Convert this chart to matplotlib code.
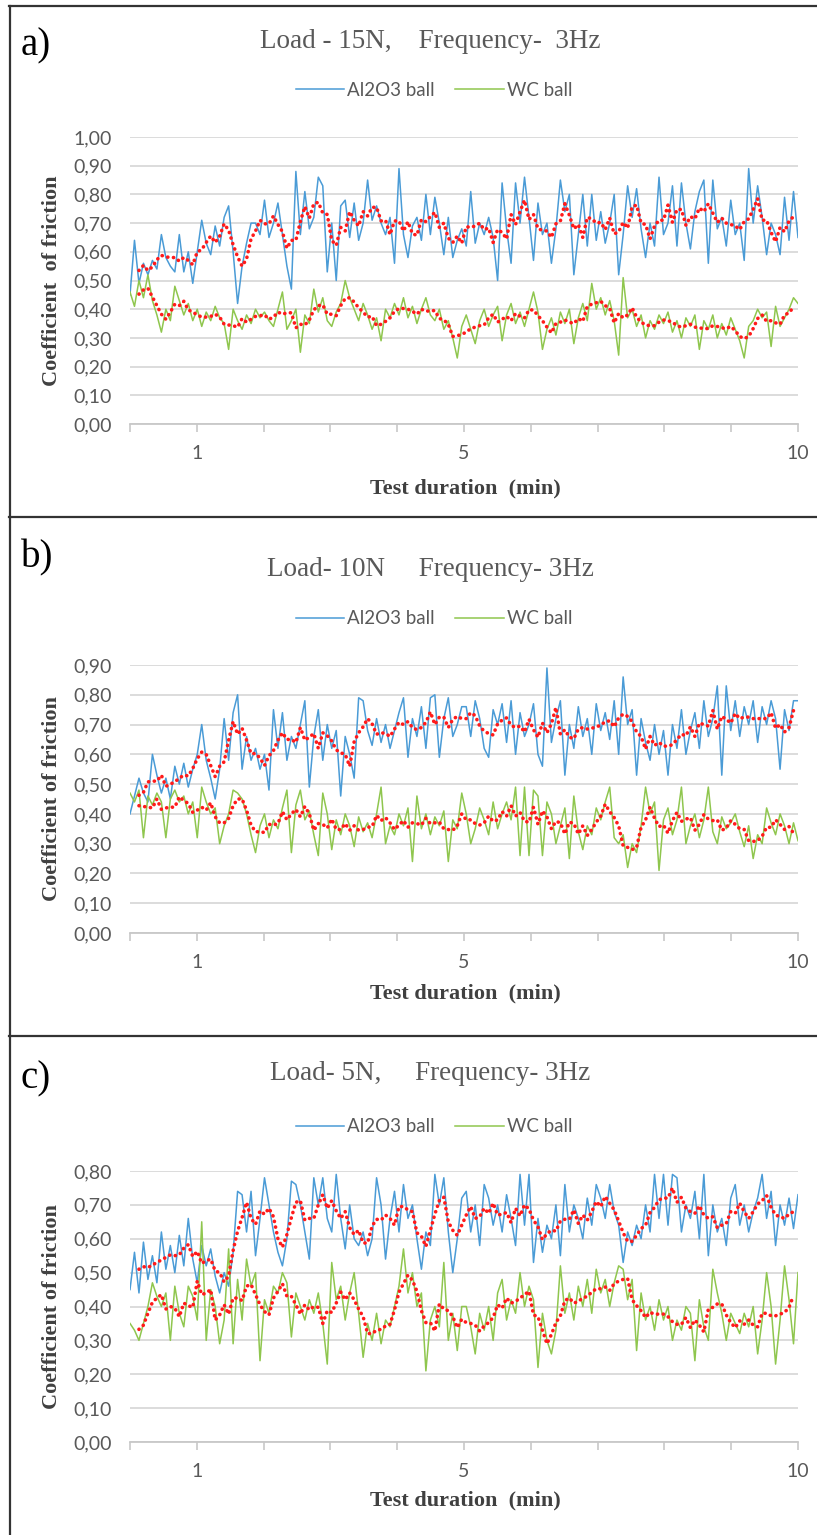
import numpy as np
import pandas as pd
import matplotlib
matplotlib.use("Agg")
import matplotlib.pyplot as plt
from matplotlib.lines import Line2D
from matplotlib.ticker import FuncFormatter, FixedLocator

# ---------------- data (coefficient of friction) ----------------
series_labels = ["Al2O3 ball", "WC ball"]
x_tick_values = [1, 5, 10]

a_al2o3 = [
    0.45, 0.64, 0.49, 0.56, 0.52, 0.57, 0.54, 0.66, 0.58, 0.55, 0.53, 0.66, 0.53, 0.60, 0.49,
    0.60, 0.71, 0.63, 0.59, 0.69, 0.62, 0.72, 0.76, 0.60, 0.42, 0.55, 0.63, 0.70, 0.70, 0.66,
    0.78, 0.65, 0.70, 0.77, 0.66, 0.55, 0.47, 0.88, 0.66, 0.81, 0.68, 0.72, 0.86, 0.83, 0.53,
    0.70, 0.50, 0.76, 0.78, 0.65, 0.77, 0.64, 0.70, 0.85, 0.71, 0.76, 0.70, 0.66, 0.72, 0.56,
    0.89, 0.66, 0.58, 0.69, 0.72, 0.64, 0.80, 0.66, 0.79, 0.70, 0.59, 0.72, 0.58, 0.64, 0.68,
    0.62, 0.81, 0.63, 0.70, 0.66, 0.72, 0.65, 0.50, 0.84, 0.68, 0.56, 0.84, 0.70, 0.86, 0.72,
    0.57, 0.77, 0.66, 0.70, 0.56, 0.68, 0.85, 0.74, 0.80, 0.52, 0.66, 0.80, 0.62, 0.80, 0.64,
    0.74, 0.63, 0.70, 0.80, 0.52, 0.66, 0.83, 0.72, 0.82, 0.68, 0.58, 0.70, 0.62, 0.86, 0.66,
    0.70, 0.83, 0.62, 0.84, 0.70, 0.61, 0.74, 0.81, 0.85, 0.56, 0.85, 0.68, 0.72, 0.62, 0.78,
    0.66, 0.70, 0.57, 0.89, 0.70, 0.83, 0.72, 0.59, 0.70, 0.66, 0.59, 0.79, 0.64, 0.81, 0.65,
]
a_wc = [
    0.46, 0.41, 0.50, 0.44, 0.52, 0.43, 0.38, 0.32, 0.40, 0.36, 0.48, 0.43, 0.38, 0.42, 0.36,
    0.40, 0.34, 0.39, 0.36, 0.41, 0.37, 0.35, 0.26, 0.40, 0.36, 0.33, 0.38, 0.35, 0.40, 0.37,
    0.39, 0.36, 0.34, 0.40, 0.46, 0.33, 0.36, 0.40, 0.25, 0.38, 0.35, 0.47, 0.39, 0.44, 0.36,
    0.34, 0.39, 0.42, 0.50, 0.44, 0.40, 0.36, 0.42, 0.38, 0.33, 0.37, 0.29, 0.40, 0.37, 0.42,
    0.38, 0.44, 0.37, 0.41, 0.35, 0.40, 0.44, 0.38, 0.36, 0.40, 0.33, 0.36, 0.30, 0.23, 0.34,
    0.38, 0.33, 0.28, 0.36, 0.40, 0.34, 0.38, 0.41, 0.29, 0.38, 0.42, 0.35, 0.39, 0.34, 0.40,
    0.46, 0.39, 0.26, 0.33, 0.37, 0.31, 0.39, 0.35, 0.40, 0.28, 0.37, 0.42, 0.36, 0.49, 0.40,
    0.44, 0.38, 0.43, 0.36, 0.24, 0.51, 0.37, 0.40, 0.34, 0.38, 0.30, 0.36, 0.33, 0.38, 0.35,
    0.39, 0.32, 0.36, 0.30, 0.37, 0.34, 0.38, 0.26, 0.36, 0.33, 0.38, 0.30, 0.35, 0.31, 0.37,
    0.33, 0.29, 0.23, 0.34, 0.36, 0.40, 0.37, 0.39, 0.27, 0.41, 0.34, 0.37, 0.40, 0.44, 0.42,
]
b_al2o3 = [
    0.40, 0.46, 0.52, 0.47, 0.44, 0.60, 0.53, 0.47, 0.52, 0.45, 0.56, 0.50, 0.57, 0.49, 0.55,
    0.60, 0.70, 0.58, 0.52, 0.45, 0.55, 0.72, 0.58, 0.74, 0.80, 0.55, 0.66, 0.58, 0.62, 0.55,
    0.60, 0.48, 0.75, 0.62, 0.74, 0.58, 0.66, 0.62, 0.70, 0.78, 0.49, 0.66, 0.75, 0.58, 0.70,
    0.62, 0.68, 0.46, 0.66, 0.60, 0.52, 0.79, 0.78, 0.68, 0.63, 0.72, 0.64, 0.70, 0.62, 0.68,
    0.74, 0.79, 0.59, 0.72, 0.66, 0.76, 0.62, 0.79, 0.80, 0.59, 0.72, 0.79, 0.66, 0.70, 0.76,
    0.76, 0.66, 0.78, 0.72, 0.62, 0.59, 0.75, 0.70, 0.77, 0.64, 0.78, 0.60, 0.74, 0.66, 0.70,
    0.77, 0.60, 0.56, 0.89, 0.64, 0.72, 0.78, 0.53, 0.70, 0.62, 0.76, 0.66, 0.72, 0.60, 0.77,
    0.68, 0.74, 0.65, 0.78, 0.60, 0.86, 0.70, 0.75, 0.53, 0.72, 0.64, 0.58, 0.70, 0.60, 0.68,
    0.53, 0.70, 0.62, 0.75, 0.60, 0.68, 0.74, 0.62, 0.78, 0.66, 0.72, 0.83, 0.53, 0.83, 0.68,
    0.78, 0.66, 0.76, 0.70, 0.78, 0.64, 0.76, 0.70, 0.78, 0.72, 0.55, 0.75, 0.68, 0.78, 0.78,
]
b_wc = [
    0.47, 0.44, 0.48, 0.32, 0.46, 0.43, 0.47, 0.44, 0.32, 0.45, 0.48, 0.44, 0.46, 0.40, 0.44,
    0.32, 0.49, 0.44, 0.40, 0.42, 0.30, 0.36, 0.40, 0.48, 0.47, 0.45, 0.40, 0.33, 0.27, 0.36,
    0.40, 0.32, 0.38, 0.35, 0.42, 0.48, 0.27, 0.43, 0.48, 0.38, 0.41, 0.33, 0.26, 0.47, 0.40,
    0.28, 0.38, 0.33, 0.40, 0.36, 0.29, 0.39, 0.34, 0.37, 0.32, 0.40, 0.49, 0.30, 0.36, 0.33,
    0.40, 0.36, 0.42, 0.24, 0.46, 0.35, 0.40, 0.33, 0.39, 0.36, 0.41, 0.24, 0.38, 0.35, 0.47,
    0.40, 0.30, 0.35, 0.42, 0.38, 0.33, 0.44, 0.35, 0.40, 0.44, 0.38, 0.49, 0.26, 0.49, 0.26,
    0.48, 0.46, 0.26, 0.44, 0.40, 0.30, 0.36, 0.42, 0.25, 0.46, 0.34, 0.28, 0.36, 0.33, 0.42,
    0.38, 0.44, 0.49, 0.32, 0.30, 0.33, 0.22, 0.30, 0.27, 0.36, 0.49, 0.40, 0.44, 0.21, 0.38,
    0.42, 0.33, 0.38, 0.49, 0.30, 0.36, 0.40, 0.32, 0.38, 0.49, 0.34, 0.30, 0.39, 0.35, 0.37,
    0.40, 0.34, 0.29, 0.36, 0.25, 0.33, 0.30, 0.42, 0.37, 0.33, 0.40, 0.36, 0.30, 0.37, 0.31,
]
c_al2o3 = [
    0.45, 0.56, 0.44, 0.59, 0.48, 0.55, 0.47, 0.62, 0.51, 0.58, 0.50, 0.61, 0.52, 0.66, 0.54,
    0.47, 0.58, 0.52, 0.57, 0.49, 0.44, 0.50, 0.46, 0.56, 0.74, 0.73, 0.62, 0.74, 0.55, 0.66,
    0.78, 0.70, 0.62, 0.56, 0.52, 0.60, 0.77, 0.76, 0.70, 0.62, 0.54, 0.78, 0.70, 0.78, 0.66,
    0.62, 0.79, 0.66, 0.57, 0.70, 0.60, 0.58, 0.62, 0.55, 0.60, 0.78, 0.70, 0.54, 0.66, 0.74,
    0.62, 0.76, 0.66, 0.70, 0.60, 0.51, 0.62, 0.58, 0.79, 0.70, 0.78, 0.62, 0.50, 0.60, 0.72,
    0.74, 0.62, 0.70, 0.58, 0.76, 0.72, 0.64, 0.70, 0.62, 0.73, 0.66, 0.58, 0.79, 0.64, 0.79,
    0.53, 0.66, 0.56, 0.64, 0.60, 0.70, 0.55, 0.76, 0.62, 0.70, 0.66, 0.60, 0.72, 0.64, 0.76,
    0.72, 0.66, 0.76, 0.68, 0.64, 0.53, 0.62, 0.58, 0.64, 0.60, 0.70, 0.62, 0.79, 0.66, 0.79,
    0.64, 0.79, 0.78, 0.62, 0.70, 0.66, 0.74, 0.60, 0.79, 0.55, 0.70, 0.62, 0.66, 0.58, 0.72,
    0.76, 0.64, 0.70, 0.62, 0.68, 0.72, 0.79, 0.66, 0.74, 0.58, 0.70, 0.64, 0.72, 0.63, 0.73,
]
c_wc = [
    0.35, 0.33, 0.30, 0.35, 0.40, 0.47, 0.43, 0.40, 0.44, 0.30, 0.46, 0.38, 0.34, 0.46, 0.43,
    0.36, 0.65, 0.30, 0.45, 0.40, 0.29, 0.36, 0.57, 0.29, 0.48, 0.36, 0.54, 0.46, 0.50, 0.24,
    0.42, 0.38, 0.46, 0.44, 0.50, 0.47, 0.31, 0.44, 0.40, 0.36, 0.42, 0.38, 0.44, 0.35, 0.23,
    0.53, 0.42, 0.46, 0.36, 0.44, 0.50, 0.38, 0.25, 0.35, 0.30, 0.38, 0.29, 0.36, 0.34, 0.40,
    0.46, 0.57, 0.44, 0.50, 0.40, 0.44, 0.21, 0.36, 0.40, 0.34, 0.53, 0.30, 0.38, 0.27, 0.40,
    0.40, 0.34, 0.26, 0.38, 0.33, 0.40, 0.30, 0.44, 0.48, 0.36, 0.42, 0.38, 0.50, 0.40, 0.46,
    0.42, 0.22, 0.38, 0.30, 0.26, 0.33, 0.52, 0.38, 0.44, 0.36, 0.46, 0.40, 0.48, 0.38, 0.51,
    0.44, 0.48, 0.40, 0.47, 0.52, 0.51, 0.42, 0.48, 0.27, 0.44, 0.36, 0.40, 0.33, 0.42, 0.36,
    0.40, 0.30, 0.36, 0.33, 0.40, 0.38, 0.24, 0.42, 0.34, 0.30, 0.51, 0.44, 0.38, 0.30, 0.38,
    0.35, 0.32, 0.38, 0.34, 0.40, 0.26, 0.36, 0.50, 0.40, 0.23, 0.36, 0.52, 0.42, 0.29, 0.50,
]

panel_labels = ["a)", "b)", "c)"]
panel_titles = ["Load - 15N,    Frequency-  3Hz",
                "Load- 10N     Frequency- 3Hz",
                "Load- 5N,     Frequency- 3Hz"]
y_labels = ["Coefficient  of friction", "Coefficient of friction", "Coefficient of friction"]
y_max = [1.0, 0.9, 0.8]
x_label = "Test duration  (min)"
test_minutes = 10

# ---------------- styling ----------------
W, H = 817, 1535
BLUE = "#4a9bd6"
GREEN = "#8fc64e"
RED = "#ff1a1a"
GRID = "#d9d9d9"
TXT = "#595959"
SERIF = "Liberation Serif"
SANS = ["Lato", "DejaVu Sans"]
MA_WINDOW = 4

fig = plt.figure(figsize=(W / 100, H / 100), dpi=100)
fig.patch.set_facecolor("white")

def fx(px):
    return px / W

def fy(py):
    return 1 - py / H

# pixel layout of each panel: (axes top, axes bottom, title y, legend y, label y, x-label y)
layout = [
    dict(top=137, bottom=424, title=42, legend=90, label=46, xlabel=488),
    dict(top=665, bottom=933, title=570, legend=619, label=558, xlabel=993),
    dict(top=1171, bottom=1442, title=1073, legend=1127, label=1079, xlabel=1500),
]
AX_L, AX_R = 130, 798

data = [(a_al2o3, a_wc), (b_al2o3, b_wc), (c_al2o3, c_wc)]
comma_fmt = FuncFormatter(lambda v, p: f"{v:.2f}".replace(".", ","))

for k in range(3):
    lay = layout[k]
    al, wc = data[k]
    ax = fig.add_axes([fx(AX_L), fy(lay["bottom"]), fx(AX_R) - fx(AX_L),
                       (lay["bottom"] - lay["top"]) / H])
    t_al = np.linspace(0, test_minutes, len(al))
    t_wc = np.linspace(0, test_minutes, len(wc))
    l1, = ax.plot(t_al, al, color=BLUE, lw=1.1, zorder=3)
    l2, = ax.plot(t_wc, wc, color=GREEN, lw=1.1, zorder=3)
    for t, s in ((t_al, al), (t_wc, wc)):
        ma = pd.Series(s).rolling(MA_WINDOW, center=True).mean()
        ax.plot(t, ma, color=RED, lw=2.6, linestyle=(0, (0.05, 1.55)),
                dash_capstyle="round", zorder=4)

    ax.set_xlim(0, test_minutes)
    ax.set_ylim(0, y_max[k])
    ax.yaxis.set_major_locator(FixedLocator(np.round(np.arange(0, y_max[k] + 1e-6, 0.1), 2)))
    ax.yaxis.set_major_formatter(comma_fmt)
    ax.set_xticks(range(0, test_minutes + 1))
    ax.set_xticklabels([str(m) if m in x_tick_values else "" for m in range(test_minutes + 1)])
    ax.grid(axis="y", color=GRID, lw=1.3)
    ax.set_axisbelow(True)
    for side in ("top", "right", "left"):
        ax.spines[side].set_visible(False)
    ax.spines["bottom"].set_color("#c8c8c8")
    ax.spines["bottom"].set_linewidth(1.3)
    ax.tick_params(axis="y", length=0, pad=13, labelsize=14, labelcolor=TXT)
    ax.tick_params(axis="x", direction="out", length=6, width=1.2, color="#c8c8c8",
                   pad=9, labelsize=14, labelcolor=TXT)
    for lab in ax.get_xticklabels() + ax.get_yticklabels():
        lab.set_family(SANS)

    leg = ax.legend([l1, l2], series_labels, loc="center", ncol=2, frameon=False,
                    bbox_to_anchor=(fx(434), fy(lay["legend"])), bbox_transform=fig.transFigure,
                    handlelength=2.6, handletextpad=0.15, columnspacing=1.1,
                    prop={"family": SANS, "size": 13.5})
    for txt in leg.get_texts():
        txt.set_color(TXT)

    fig.text(fx(430), fy(lay["title"]), panel_titles[k], ha="center", va="center",
             family=SERIF, fontsize=19.5, color=TXT)
    fig.text(fx(21), fy(lay["label"]), panel_labels[k], ha="left", va="center",
             family=SERIF, fontsize=28, color="black")
    fig.text(fx(52), fy((lay["top"] + lay["bottom"]) / 2), y_labels[k], rotation=90,
             ha="center", va="center", family=SERIF, fontweight="bold", fontsize=16,
             color="#404040")
    fig.text(fx(465), fy(lay["xlabel"]), x_label, ha="center", va="center",
             family=SERIF, fontweight="bold", fontsize=16, color="#404040")

# panel frames
for yy in (6, 517, 1036):
    fig.add_artist(Line2D([fx(9), fx(817)], [fy(yy), fy(yy)], transform=fig.transFigure,
                          color="#333333", lw=1.6))
fig.add_artist(Line2D([fx(10), fx(10)], [fy(6), fy(1535)], transform=fig.transFigure,
                      color="#333333", lw=1.6))

fig.savefig("out.png", dpi=100, facecolor="white")
